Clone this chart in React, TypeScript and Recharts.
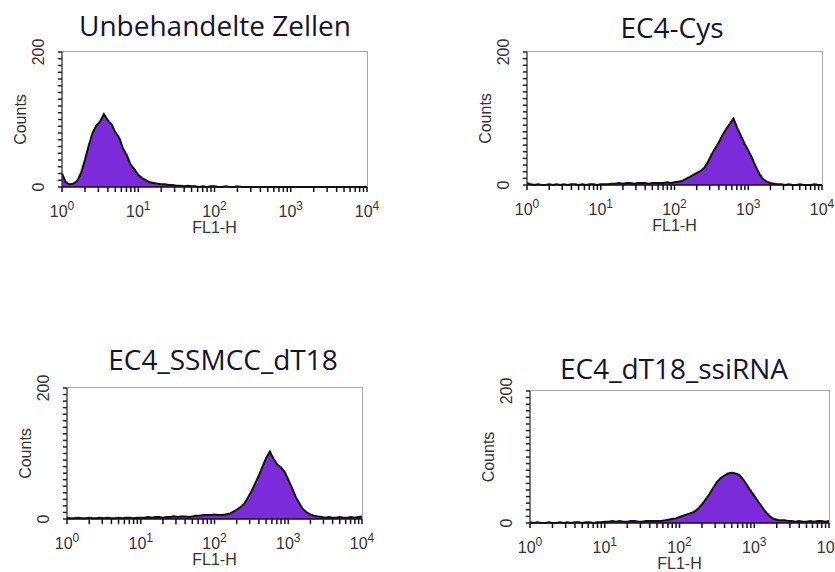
import { AreaChart, Area, XAxis, YAxis } from 'recharts'

// FL1-H channel mantissas (0.05-decade steps) and decades of the log axis
const mantissas = [1, 1.122, 1.259, 1.413, 1.585, 1.778, 1.995, 2.239, 2.512, 2.818, 3.162, 3.548, 3.981, 4.467, 5.012, 5.623, 6.31, 7.079, 7.943, 8.913]
const decades = [1, 10, 100, 1000]
const minorSteps = [1, 2, 3, 4, 5, 6, 7, 8, 9]
const countTicks = [0, 10, 20, 30, 40, 50, 60, 70, 80, 90, 100, 110, 120, 130, 140, 150, 160, 170, 180, 190, 200]

const titles = ['Unbehandelte Zellen', 'EC4-Cys', 'EC4_SSMCC_dT18', 'EC4_dT18_ssiRNA']

// counts per channel (81 channels, 10^0 .. 10^4)
const unbehandelt = [
  20, 7, 4, 5, 9, 21, 40, 61, 80, 91,
  97, 108, 99, 93, 81, 73, 57, 47, 33, 26,
  18, 13, 10, 7, 6, 5, 4, 4, 3, 3,
  2, 2, 1, 2, 1, 1, 0, 1, 0, 1,
  1, 0, 0, 1, 0, 0, 1, 0, 0, 0,
  0, 0, 0, 0, 0, 0, 0, 0, 0, 0,
  0, 0, 0, 0, 0, 0, 0, 0, 0, 0,
  0, 0, 0, 0, 0, 0, 0, 0, 0, 0,
  0,
]
const ec4Cys = [
  3, 1, 0, 1, 0, 0, 1, 0, 1, 0,
  1, 0, 1, 1, 0, 1, 0, 1, 1, 0,
  1, 1, 1, 2, 2, 3, 2, 3, 3, 2,
  3, 3, 3, 2, 3, 3, 3, 3, 4, 3,
  4, 5, 6, 9, 12, 15, 18, 21, 25, 34,
  45, 55, 64, 75, 84, 92, 100, 86, 74, 62,
  52, 41, 28, 17, 9, 5, 3, 2, 1, 1,
  0, 1, 0, 0, 1, 0, 0, 0, 1, 0,
  0,
]
const ssmccDT18 = [
  2, 1, 1, 2, 1, 1, 2, 1, 1, 2,
  1, 2, 1, 1, 2, 1, 2, 2, 1, 2,
  2, 2, 3, 2, 3, 3, 2, 3, 3, 4,
  3, 4, 4, 3, 4, 5, 5, 6, 6, 6,
  7, 6, 6, 7, 8, 11, 14, 18, 23, 32,
  42, 54, 66, 80, 93, 103, 92, 83, 79, 72,
  60, 48, 34, 24, 15, 10, 7, 5, 4, 3,
  2, 3, 2, 2, 3, 2, 2, 3, 2, 3,
  4,
]
const dT18ssiRna = [
  1, 0, 1, 0, 0, 1, 0, 0, 1, 0,
  1, 0, 1, 1, 0, 1, 1, 0, 1, 1,
  2, 2, 3, 2, 3, 2, 2, 3, 3, 2,
  2, 3, 3, 3, 3, 3, 4, 5, 6, 7,
  9, 11, 13, 15, 17, 22, 28, 36, 44, 53,
  62, 68, 72, 75, 76, 75, 73, 66, 58, 49,
  41, 33, 25, 17, 11, 7, 5, 4, 4, 3,
  3, 2, 3, 2, 2, 3, 2, 3, 3, 2,
  3,
]

const channels = [...decades.flatMap((d) => mantissas.map((m) => m * d)), 10000]
const xTicks = [...decades.flatMap((d) => minorSteps.map((s) => s * d)), 10000]
const toRows = (counts: number[]) => channels.map((fl, i) => ({ fl, count: counts[i] }))

// plot box of each panel (left, top, right, bottom) and title baseline
const panels = [
  { counts: unbehandelt, l: 62, t: 52, r: 367, b: 187, tx: 215, ty: 36 },
  { counts: ec4Cys, l: 527, t: 52, r: 822, b: 185, tx: 672, ty: 38 },
  { counts: ssmccDT18, l: 67, t: 388, r: 362, b: 519, tx: 223, ty: 370 },
  { counts: dT18ssiRna, l: 530, t: 391, r: 829, b: 523, tx: 674, ty: 379 },
]

const axisFont = '"Liberation Sans", Arial, sans-serif'
const AXIS_W = 62
const AXIS_H = 50
const TOP = 20
const RIGHT = 18
const X_TICK = 5
const Y_TICK = 4

function LogTick({ x, y, payload }: any) {
  const v = payload.value
  const exp = Math.round(Math.log10(v))
  if (Math.abs(Math.pow(10, exp) - v) > 1e-6) return <g />
  return (
    <text x={x} y={y + 23} textAnchor="middle" fontSize={16} fill="#333" fontFamily={axisFont}>
      10<tspan dy={-7} fontSize={12}>{exp}</tspan>
    </text>
  )
}

function CountTick({ x, y, payload }: any) {
  const v = payload.value
  if (v !== 0 && v !== 200) return <g />
  return (
    <text
      transform={`translate(${x - 18},${y}) rotate(-90)`}
      textAnchor="middle"
      dominantBaseline="central"
      fontSize={16}
      fill="#333"
      fontFamily={axisFont}
    >
      {v}
    </text>
  )
}

function CountsLabel({ viewBox }: any) {
  const { x, y, width, height } = viewBox
  return (
    <text
      transform={`translate(${x + width - 42},${y + height / 2}) rotate(-90)`}
      textAnchor="middle"
      dominantBaseline="central"
      fontSize={16}
      fill="#333"
      fontFamily={axisFont}
    >
      Counts
    </text>
  )
}

function FlLabel({ viewBox }: any) {
  const { x, y, width } = viewBox
  return (
    <text x={x + width / 2} y={y + 46} textAnchor="middle" fontSize={16} fill="#333" fontFamily={axisFont}>
      FL1-H
    </text>
  )
}

function Histogram({ counts, l, t, r, b }: any) {
  return (
    <>
      <div style={{ position: 'absolute', left: l - AXIS_W, top: t - TOP }}>
        <AreaChart
          width={r - l + AXIS_W + RIGHT}
          height={b - t + TOP + AXIS_H}
          data={toRows(counts)}
          margin={{ top: TOP, right: RIGHT, left: 0, bottom: 0 }}
        >
          <XAxis
            dataKey="fl"
            type="number"
            scale="log"
            domain={[1, 10000]}
            allowDataOverflow
            ticks={xTicks}
            interval={0}
            height={AXIS_H}
            tickSize={X_TICK}
            stroke="#111"
            tickLine={{ stroke: '#111', strokeWidth: 1.5 }}
            axisLine={{ stroke: '#111', strokeWidth: 1.5 }}
            tick={<LogTick />}
            label={<FlLabel />}
          />
          <YAxis
            type="number"
            domain={[0, 200]}
            ticks={countTicks}
            interval={0}
            width={AXIS_W}
            tickSize={Y_TICK}
            stroke="#222"
            tickLine={{ stroke: '#222', strokeWidth: 1.5 }}
            axisLine={{ stroke: '#222', strokeWidth: 1.2 }}
            tick={<CountTick />}
            label={<CountsLabel />}
          />
          <Area
            type="linear"
            dataKey="count"
            stroke="#111"
            strokeWidth={2}
            fill="#7b2bd9"
            fillOpacity={1}
            isAnimationActive={false}
          />
        </AreaChart>
      </div>
      {/* light frame on top and right of the plot box */}
      <div
        style={{
          position: 'absolute',
          left: l,
          top: t - 1,
          width: r - l,
          height: b - t,
          borderTop: '1px solid #a8a8a8',
          borderRight: '1px solid #a8a8a8',
          pointerEvents: 'none',
        }}
      />
    </>
  )
}

export default function App() {
  return (
    <div style={{ position: 'absolute', left: 0, top: 0, width: 835, height: 572, background: '#fff', overflow: 'hidden' }}>
      {panels.map((p, i) => (
        <Histogram key={titles[i]} {...p} />
      ))}
      <svg width={835} height={572} style={{ position: 'absolute', left: 0, top: 0, pointerEvents: 'none' }}>
        {panels.map((p, i) => (
          <text
            key={titles[i]}
            x={p.tx}
            y={p.ty}
            textAnchor="middle"
            fontSize={28}
            fill="#15152a"
            fontFamily='"Open Sans", "Noto Sans", sans-serif'
          >
            {titles[i]}
          </text>
        ))}
      </svg>
    </div>
  )
}
